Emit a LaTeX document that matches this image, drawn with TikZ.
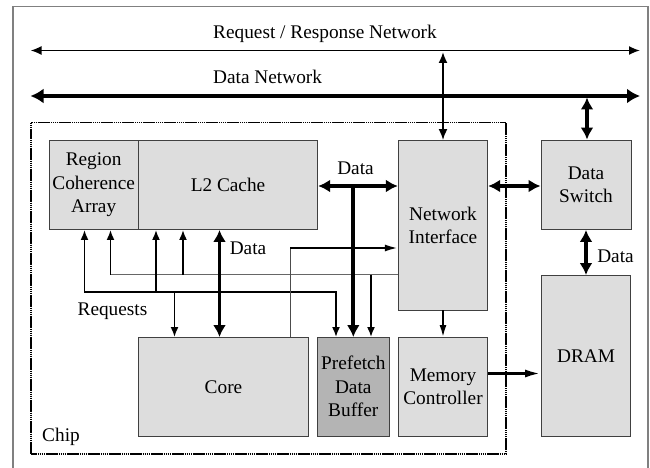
\documentclass[tikz,border=0pt]{standalone}
\usepackage{fontspec}
\setmainfont{Liberation Serif}
\usetikzlibrary{arrows.meta}
\definecolor{boxfill}{HTML}{DDDDDD}
\definecolor{pffill}{HTML}{B4B4B4}
\definecolor{boxline}{HTML}{404040}
\begin{document}
\begin{tikzpicture}[x=1pt,y=-1pt,
  every node/.style={font=\fontsize{19.3}{23.5}\selectfont},
  blk/.style={draw=boxline, line width=0.9pt, fill=boxfill, inner sep=0pt, align=center},
  ta/.style={line width=1.8pt, -{Latex[length=10pt,width=8pt]}},
  tb/.style={line width=1.8pt, {Latex[length=11pt,width=9pt]}-{Latex[length=11pt,width=9pt]}},
  ka/.style={line width=3.8pt, -{Latex[length=12pt,width=13pt]}},
  kb/.style={line width=3.8pt, {Latex[length=12pt,width=13pt]}-{Latex[length=12pt,width=13pt]}},
  lbl/.style={inner sep=0pt}
]
\useasboundingbox (0,0) rectangle (650,468);
% outer frame
\draw[draw=black!50, line width=1.3pt] (13,470) -- (13,6.5) -- (648,6.5) -- (648,470);
% chip boundary
\draw[line width=1.6pt, dash pattern=on 1.6pt off 0.5pt] (30.7,122.7) rectangle (506,454);

% networks
\coordinate (rnL) at (30.5,50.5);
\coordinate (rnR) at (640,50.5);
\coordinate (dnL) at (30.5,96);
\coordinate (dnR) at (640,96);
\draw[tb] (rnL) -- (rnR);
\draw[line width=3.8pt, {Latex[length=13pt,width=15pt]}-{Latex[length=13pt,width=15pt]}] (dnL) -- (dnR);
\node[lbl, anchor=west] (rnlab) at (213,34) {Request / Response Network};
\node[lbl, anchor=west] (dnlab) at (213,77) {Data Network};

% blocks
\node[blk, minimum width=89.3pt, minimum height=89pt] (rca) at (93.65,185) {Region\\Coherence\\Array};
\node[blk, minimum width=179.4pt, minimum height=89pt] (l2) at (228,185) {L2 Cache};
\node[blk, minimum width=89.4pt, minimum height=169.5pt] (ni) at (443,225.25) {Network\\Interface};
\node[blk, minimum width=90pt, minimum height=89.5pt] (ds) at (586,184.75) {Data\\Switch};
\node[blk, minimum width=89.2pt, minimum height=160.5pt] (dram) at (586.1,355.75) {DRAM};
\node[blk, minimum width=169.6pt, minimum height=98.5pt] (core) at (223.5,386.75) {Core};
\node[blk, fill=pffill, minimum width=71.5pt, minimum height=98.5pt] (pf) at (353.25,386.75) {Prefetch\\Data\\Buffer};
\node[blk, minimum width=89.4pt, minimum height=98.5pt] (mc) at (443,386.75) {Memory\\Controller};

% labels
\node[lbl] (chiplab) at (61,437) {Chip};
\node[lbl] (reqlab) at (112.5,311) {Requests};
\node[lbl] (datal2) at (248,248) {Data};
\node[lbl] (datani) at (355.5,168) {Data};
\node[lbl] (datads) at (615.5,256) {Data};

% helper coordinates
\coordinate (bk) at (0,292);
\coordinate (gy) at (0,274.5);
\coordinate (cn) at (0,248);
\coordinate (dy) at (0,186);
\coordinate (my) at (0,373.5);
\coordinate (xa) at (84.5,0);
\coordinate (xb) at (156,0);
\coordinate (xc) at (174.5,0);
\coordinate (xd) at (219.5,0);
\coordinate (xe) at (336,0);
\coordinate (xf) at (353.3,0);
\coordinate (xg1) at (110.5,0);
\coordinate (xg2) at (183,0);
\coordinate (xg3) at (371,0);
\coordinate (xh) at (290,0);
\coordinate (xn) at (443,0);
\coordinate (xs) at (587,0);

% request buses
\draw[line width=1.3pt, draw=black!60] (xg1 |- gy) -- (ni.west |- gy);
\draw[ta] (xg1 |- gy) -- (xg1 |- rca.south);
\draw[ta] (xg2 |- gy) -- (xg2 |- l2.south);
\draw[ta] (xg3 |- gy) -- (xg3 |- pf.north);

\draw[line width=1.8pt, line join=miter, {Latex[length=10pt,width=8pt]}-{Latex[length=10pt,width=8pt]}]
  (xa |- rca.south) -- (xa |- bk) -- (xe |- bk) -- (xe |- pf.north);
\draw[ta] (xb |- bk) -- (xb |- l2.south);
\draw[ta] (xc |- bk) -- (xc |- core.north);

% core to network interface
\draw[line width=0.9pt, draw=black!70] (xh |- core.north) -- (xh |- cn);
\draw[line width=2pt, -{Latex[length=13pt,width=7pt]}] (xh |- cn) -- (ni.west |- cn);

% data paths
\draw[kb] (xd |- l2.south) -- (xd |- core.north);
\draw[kb] (l2.east |- dy) -- (ni.west |- dy);
\draw[ka] (xf |- dy) -- (xf |- pf.north);
\draw[kb] (ni.east |- dy) -- (ds.west |- dy);
\draw[kb] (ds.south) -- (ds.south |- dram.north);
\draw[kb] (xs |- 0,97.5) -- (xs |- ds.north);
\draw[tb] (xn |- 0,52) -- (ni.north);
\draw[line width=1.8pt, -{Latex[length=12pt,width=7pt]}] (ni.south) -- (mc.north);
\draw[line width=2.8pt, -{Latex[length=16pt,width=8pt]}] (mc.east |- my) -- (dram.west |- my);
\end{tikzpicture}
\end{document}
